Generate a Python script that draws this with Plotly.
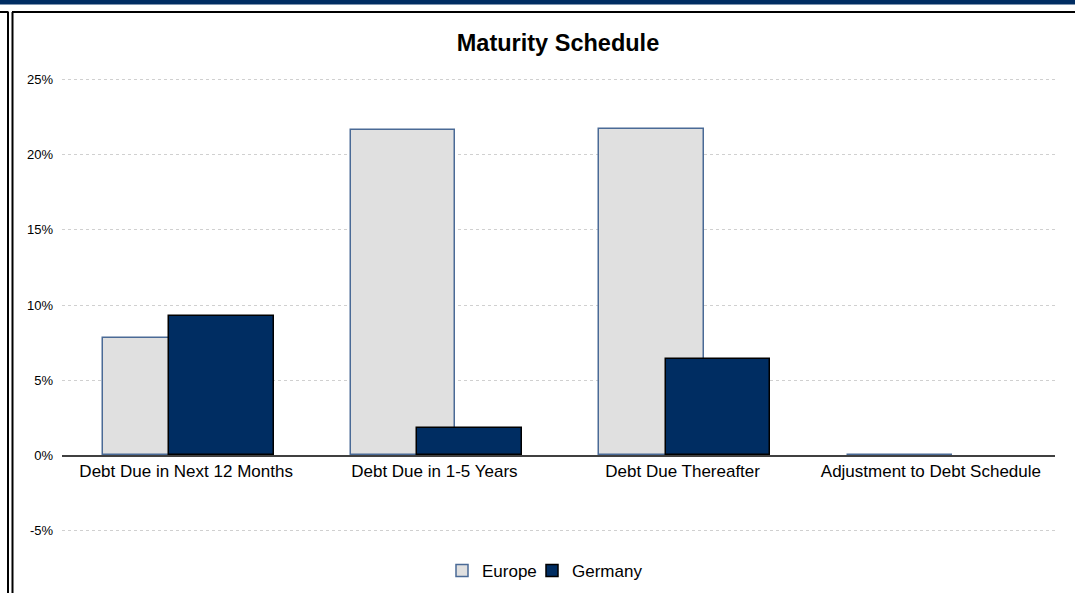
import plotly.graph_objects as go

categories = ["Debt Due in Next 12 Months", "Debt Due in 1-5 Years", "Debt Due Thereafter", "Adjustment to Debt Schedule"]
europe = [7.8, 21.65, 21.7, -0.1]
germany = [9.3, 1.8, 6.4, 0.0]
series_names = ["Europe", "Germany"]
y_ticks = [-5, 0, 5, 10, 15, 20, 25]
y_tick_labels = ["-5%", "0%", "5%", "10%", "15%", "20%", "25%"]

W, H = 1075, 593
EXTRA = 8
L, R, T = 62, 20, 78
PLOT_BOTTOM = 532
B = H - PLOT_BOTTOM
PW, PH = W - L - R, PLOT_BOTTOM - T

def px(x):
    return (x - L) / PW

def py(y):
    return (PLOT_BOTTOM - y) / PH

fig = go.Figure()
fig.add_trace(go.Bar(
    name=series_names[0], x=categories, y=europe,
    width=0.42, offset=-0.335, legend="legend",
    marker=dict(color="#E0E0E0", line=dict(color="#4A6A96", width=1.5)),
))
fig.add_trace(go.Bar(
    name=series_names[1], x=categories, y=germany,
    width=0.42, offset=-0.068, legend="legend2",
    marker=dict(color="#002D62", line=dict(color="#000000", width=[1.5, 1.5, 1.5, 0])),
))

shapes = [
    dict(type="rect", xref="paper", yref="paper", x0=px(0), x1=px(W), y0=py(0), y1=py(4.5),
         fillcolor="#002D62", line=dict(width=0), layer="above"),
    dict(type="line", xref="paper", yref="paper", x0=px(0), x1=px(8.5), y0=py(12), y1=py(12),
         line=dict(color="#000000", width=2)),
    dict(type="line", xref="paper", yref="paper", x0=px(8), x1=px(8), y0=py(12), y1=py(H + 10),
         line=dict(color="#000000", width=2)),
    dict(type="line", xref="paper", yref="paper", x0=px(12), x1=px(W), y0=py(12), y1=py(12),
         line=dict(color="#000000", width=2)),
    dict(type="line", xref="paper", yref="paper", x0=px(12.5), x1=px(12.5), y0=py(12), y1=py(H + 10),
         line=dict(color="#000000", width=2)),
]

legend_common = dict(orientation="h", xanchor="left", y=py(571), yanchor="middle",
                     font=dict(size=17, color="#000000"), itemwidth=30, bgcolor="rgba(0,0,0,0)")

fig.update_layout(
    width=W, height=H + EXTRA, autosize=False,
    margin=dict(l=L, r=R, t=T, b=B + EXTRA),
    paper_bgcolor="white", plot_bgcolor="white",
    barmode="overlay",
    font=dict(family="Liberation Sans, Arial, sans-serif", color="#000000"),
    title=dict(text="<b>Maturity Schedule</b>", x=px(558), xref="paper", xanchor="center",
               y=1 - 43 / (H + EXTRA), yanchor="middle", font=dict(size=23.5, color="#000000")),
    showlegend=True,
    legend=dict(x=px(442), **legend_common),
    legend2=dict(x=px(532), **legend_common),
    shapes=shapes,
    xaxis=dict(
        type="category", anchor="free", position=py(456),
        showline=True, linecolor="#404040", linewidth=1.5,
        showgrid=False, zeroline=False, ticks="",
        tickfont=dict(size=17, color="#000000"), range=[-0.5, 3.5],
    ),
    yaxis=dict(
        range=[-5.1, 25.1], tickvals=y_ticks, ticktext=y_tick_labels,
        showgrid=True, gridcolor="#D0D0D0", griddash="dot", gridwidth=1,
        zeroline=False, showline=False, ticks="",
        tickfont=dict(size=13, color="#000000"), ticklabelstandoff=8,
    ),
    bargap=0,
)

fig.write_html(
    "out.html",
    config={"displayModeBar": False, "responsive": False},
    post_script="document.body.style.margin='0';document.body.style.overflow='hidden';",
)
